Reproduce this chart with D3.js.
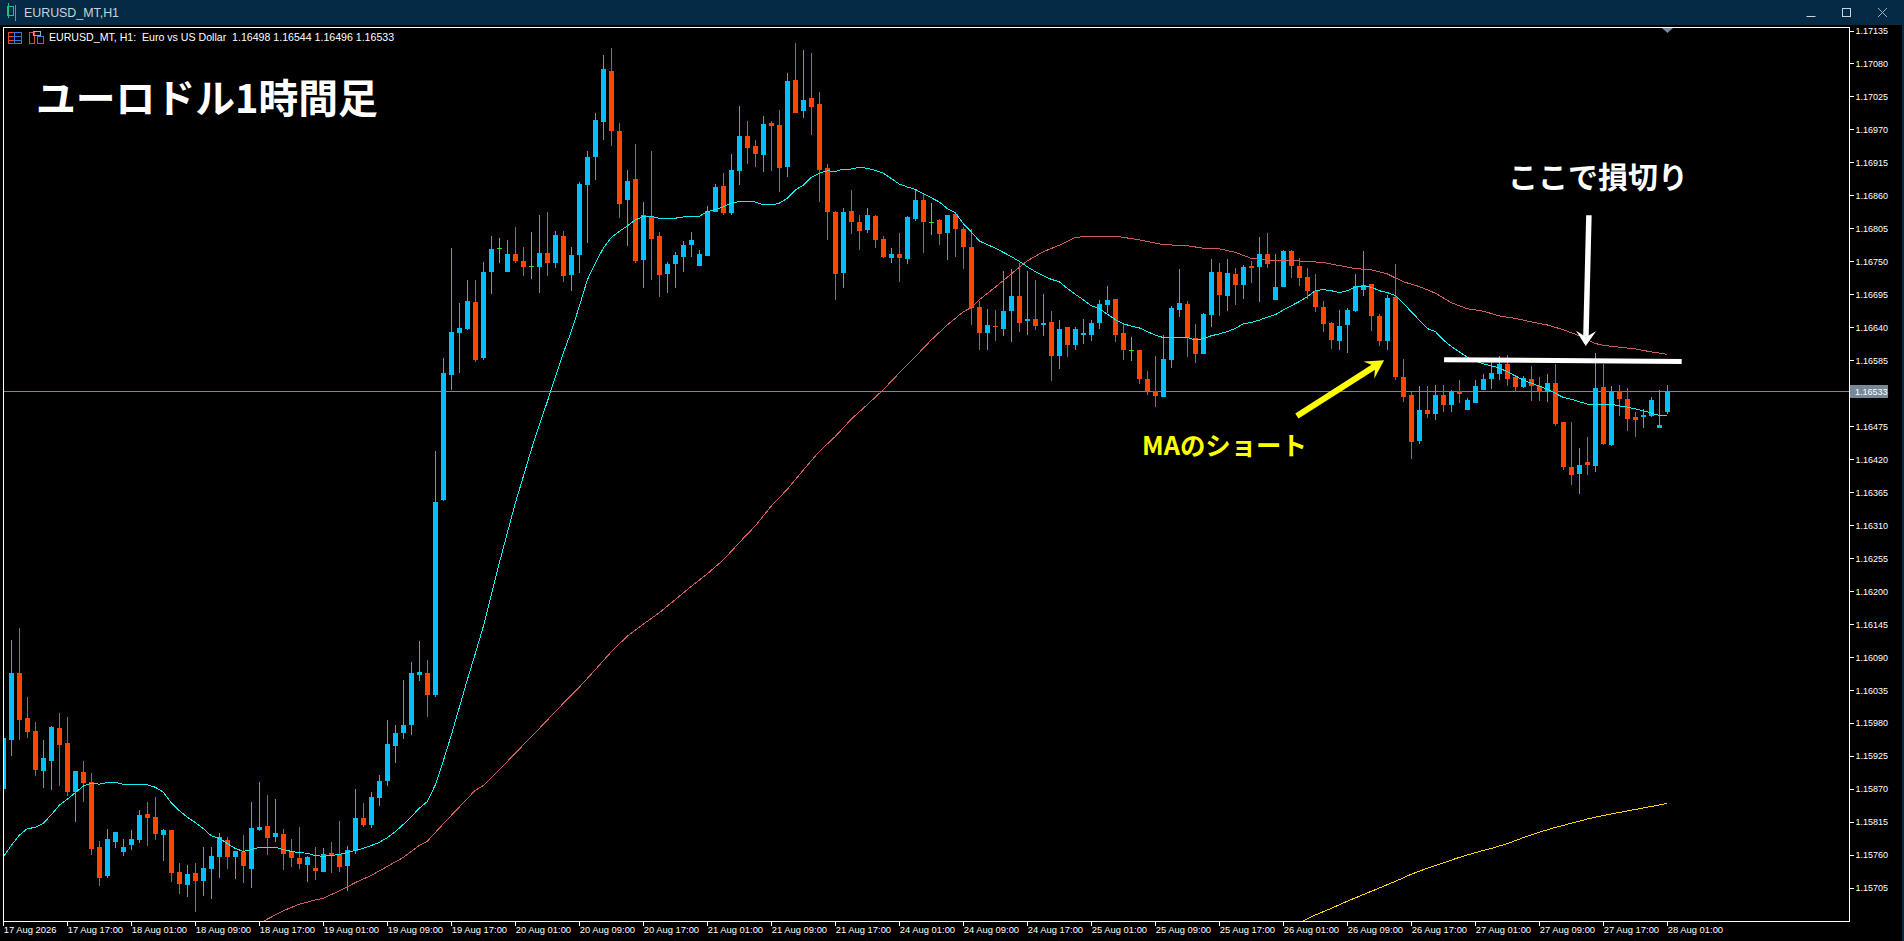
<!DOCTYPE html>
<html lang="ja">
<head>
<meta charset="utf-8">
<title>EURUSD_MT,H1</title>
<script src="https://cdn.jsdelivr.net/npm/d3@7"></script>
<style>
html,body{margin:0;padding:0;background:#000;overflow:hidden}
svg{display:block}
.ui{font-family:"Liberation Sans",Arial,sans-serif}
.jp{font-family:"Noto Sans CJK JP",sans-serif;font-weight:700}
.axis text{font-family:"Liberation Sans",sans-serif;font-size:9.4px;fill:#fff}
.axis.price text{font-size:9px}
.axis line,.axis path{stroke:#fff;shape-rendering:crispEdges}
</style>
</head>
<body>
<svg id="chart" width="1904" height="941"></svg>
<script>
const opens=[
1.15870,1.15952,1.16063,1.15988,1.15967,1.15900,1.15917,1.15971,1.15947,1.15865,
1.15898,1.15881,1.15773,1.15725,1.15782,1.15765,1.15777,1.15785,1.15828,1.15823,
1.15793,1.15801,1.15731,1.15710,1.15730,1.15717,1.15737,1.15757,1.15785,1.15757,
1.15765,1.15737,1.15801,1.15808,1.15790,1.15795,1.15765,1.15755,1.15743,1.15738,
1.15732,1.15763,1.15761,1.15742,1.15767,1.15821,1.15810,1.15855,1.15883,1.15942,
1.15964,1.15977,1.16060,1.16063,1.16027,1.16352,1.16561,1.16631,1.16637,1.16682,
1.16589,1.16732,1.16773,1.16732,1.16762,1.16751,1.16742,1.16741,1.16764,1.16747,
1.16792,1.16727,1.16761,1.16877,1.16924,1.16983,1.17068,1.16968,1.16852,1.16887,
1.16752,1.16824,1.16792,1.16729,1.16746,1.16757,1.16777,1.16743,1.16759,1.16832,
1.16876,1.16831,1.16901,1.16959,1.16943,1.16927,1.16981,1.16978,1.16907,1.17053,
1.17001,1.17023,1.17013,1.16906,1.16832,1.16731,1.16834,1.16816,1.16802,1.16826,
1.16787,1.16756,1.16762,1.16754,1.16820,1.16852,1.16816,1.16819,1.16797,1.16829,
1.16804,1.16774,1.16674,1.16630,1.16642,1.16637,1.16667,1.16692,1.16650,1.16654,
1.16644,1.16649,1.16592,1.16640,1.16610,1.16627,1.16627,1.16647,1.16677,1.16687,
1.16630,1.16603,1.16602,1.16553,1.16533,1.16523,1.16585,1.16669,1.16679,1.16623,
1.16595,1.16660,1.16732,1.16692,1.16729,1.16710,1.16742,1.16740,1.16762,1.16685,
1.16707,1.16767,1.16742,1.16724,1.16700,1.16674,1.16647,1.16617,1.16644,1.16667,
1.16702,1.16712,1.16659,1.16617,1.16691,1.16557,1.16527,1.16450,1.16502,1.16495,
1.16527,1.16510,1.16533,1.16502,1.16514,1.16535,1.16554,1.16562,1.16579,1.16557,
1.16540,1.16554,1.16542,1.16532,1.16547,1.16482,1.16407,1.16395,1.16415,1.16409,
1.16540,1.16444,1.16534,1.16520,1.16490,1.16490,1.16492,1.16472,1.16498];
const highs=[
1.15955,1.16118,1.16138,1.16023,1.15982,1.15952,1.15975,1.15997,1.15990,1.15900,
1.15917,1.15896,1.15783,1.15803,1.15798,1.15786,1.15801,1.15835,1.15848,1.15856,
1.15803,1.15801,1.15746,1.15743,1.15746,1.15773,1.15773,1.15796,1.15790,1.15766,
1.15793,1.15848,1.15881,1.15860,1.15853,1.15803,1.15786,1.15806,1.15759,1.15773,
1.15771,1.15781,1.15816,1.15775,1.15870,1.15846,1.15865,1.15893,1.15985,1.15977,
1.16052,1.16082,1.16117,1.16085,1.16434,1.16589,1.16772,1.16681,1.16719,1.16719,
1.16749,1.16792,1.16789,1.16786,1.16807,1.16774,1.16799,1.16827,1.16832,1.16801,
1.16801,1.16774,1.16882,1.16934,1.16998,1.17094,1.17106,1.16981,1.16902,1.16946,
1.16849,1.16934,1.16799,1.16749,1.16766,1.16784,1.16799,1.16769,1.16842,1.16879,
1.16897,1.16929,1.17009,1.16984,1.16953,1.16993,1.16984,1.17003,1.17064,1.17114,
1.17103,1.17098,1.17033,1.16912,1.16834,1.16839,1.16869,1.16827,1.16839,1.16827,
1.16792,1.16772,1.16797,1.16826,1.16871,1.16863,1.16847,1.16820,1.16827,1.16830,
1.16807,1.16804,1.16684,1.16670,1.16669,1.16734,1.16737,1.16747,1.16734,1.16719,
1.16695,1.16667,1.16652,1.16640,1.16640,1.16654,1.16652,1.16685,1.16709,1.16687,
1.16647,1.16624,1.16602,1.16567,1.16592,1.16628,1.16675,1.16737,1.16684,1.16645,
1.16664,1.16754,1.16747,1.16754,1.16739,1.16744,1.16750,1.16790,1.16797,1.16762,
1.16769,1.16769,1.16755,1.16739,1.16729,1.16684,1.16649,1.16669,1.16673,1.16729,
1.16767,1.16712,1.16662,1.16694,1.16746,1.16587,1.16532,1.16542,1.16542,1.16544,
1.16544,1.16535,1.16552,1.16522,1.16552,1.16562,1.16582,1.16592,1.16594,1.16561,
1.16559,1.16575,1.16557,1.16562,1.16579,1.16482,1.16482,1.16439,1.16457,1.16597,
1.16579,1.16542,1.16544,1.16539,1.16499,1.16504,1.16524,1.16535,1.16544];
const lows=[
1.15870,1.15925,1.15952,1.15955,1.15892,1.15872,1.15869,1.15875,1.15859,1.15815,
1.15849,1.15760,1.15709,1.15722,1.15772,1.15759,1.15769,1.15780,1.15775,1.15785,
1.15750,1.15715,1.15695,1.15690,1.15665,1.15692,1.15687,1.15722,1.15737,1.15720,
1.15714,1.15705,1.15800,1.15760,1.15782,1.15735,1.15740,1.15737,1.15715,1.15718,
1.15732,1.15730,1.15732,1.15700,1.15762,1.15806,1.15805,1.15842,1.15875,1.15914,
1.15954,1.15960,1.16050,1.15990,1.16024,1.16350,1.16536,1.16564,1.16636,1.16582,
1.16586,1.16696,1.16747,1.16732,1.16747,1.16726,1.16721,1.16697,1.16726,1.16739,
1.16716,1.16701,1.16731,1.16781,1.16886,1.16953,1.16943,1.16822,1.16776,1.16747,
1.16706,1.16719,1.16691,1.16697,1.16706,1.16732,1.16757,1.16742,1.16759,1.16832,
1.16827,1.16827,1.16877,1.16912,1.16907,1.16899,1.16901,1.16866,1.16891,1.16998,
1.16989,1.16961,1.16849,1.16786,1.16686,1.16706,1.16796,1.16769,1.16797,1.16772,
1.16756,1.16747,1.16716,1.16745,1.16817,1.16764,1.16794,1.16777,1.16752,1.16757,
1.16737,1.16644,1.16602,1.16602,1.16617,1.16625,1.16615,1.16633,1.16627,1.16635,
1.16625,1.16550,1.16570,1.16590,1.16602,1.16612,1.16617,1.16638,1.16664,1.16615,
1.16585,1.16584,1.16545,1.16527,1.16507,1.16523,1.16572,1.16657,1.16590,1.16580,
1.16595,1.16640,1.16659,1.16667,1.16677,1.16687,1.16714,1.16682,1.16739,1.16685,
1.16707,1.16722,1.16709,1.16687,1.16665,1.16632,1.16604,1.16602,1.16597,1.16666,
1.16692,1.16634,1.16609,1.16602,1.16552,1.16515,1.16420,1.16445,1.16489,1.16485,
1.16499,1.16499,1.16514,1.16502,1.16514,1.16535,1.16537,1.16552,1.16542,1.16532,
1.16539,1.16517,1.16517,1.16515,1.16475,1.16402,1.16377,1.16362,1.16394,1.16399,
1.16444,1.16442,1.16492,1.16467,1.16457,1.16472,1.16490,1.16472,1.16496];
const closes=[
1.15955,1.16063,1.15985,1.15965,1.15902,1.15922,1.15973,1.15944,1.15865,1.15900,
1.15880,1.15770,1.15722,1.15786,1.15798,1.15773,1.15786,1.15826,1.15822,1.15795,
1.15801,1.15730,1.15712,1.15728,1.15717,1.15738,1.15758,1.15790,1.15757,1.15766,
1.15742,1.15805,1.15806,1.15789,1.15796,1.15762,1.15755,1.15745,1.15756,1.15733,
1.15761,1.15758,1.15740,1.15768,1.15821,1.15810,1.15856,1.15883,1.15945,1.15963,
1.15977,1.16063,1.16065,1.16027,1.16349,1.16564,1.16632,1.16639,1.16684,1.16586,
1.16732,1.16771,1.16773,1.16762,1.16751,1.16741,1.16742,1.16764,1.16747,1.16794,
1.16726,1.16761,1.16879,1.16924,1.16986,1.17071,1.16968,1.16846,1.16884,1.16751,
1.16827,1.16787,1.16727,1.16746,1.16761,1.16777,1.16786,1.16762,1.16834,1.16874,
1.16831,1.16902,1.16959,1.16939,1.16929,1.16979,1.16976,1.16906,1.17051,1.16998,
1.17019,1.17008,1.16902,1.16832,1.16729,1.16832,1.16816,1.16801,1.16827,1.16786,
1.16757,1.16762,1.16756,1.16824,1.16852,1.16815,1.16816,1.16795,1.16827,1.16804,
1.16774,1.16672,1.16630,1.16644,1.16640,1.16667,1.16692,1.16648,1.16654,1.16642,
1.16647,1.16593,1.16638,1.16610,1.16638,1.16630,1.16647,1.16679,1.16685,1.16627,
1.16602,1.16603,1.16553,1.16533,1.16525,1.16587,1.16672,1.16680,1.16622,1.16595,
1.16662,1.16732,1.16694,1.16730,1.16710,1.16740,1.16739,1.16762,1.16745,1.16707,
1.16767,1.16742,1.16722,1.16700,1.16674,1.16645,1.16619,1.16642,1.16669,1.16709,
1.16711,1.16659,1.16617,1.16689,1.16557,1.16524,1.16449,1.16502,1.16495,1.16527,
1.16510,1.16532,1.16529,1.16519,1.16542,1.16554,1.16564,1.16579,1.16554,1.16540,
1.16555,1.16542,1.16532,1.16547,1.16479,1.16407,1.16394,1.16410,1.16410,1.16539,
1.16445,1.16532,1.16520,1.16487,1.16485,1.16494,1.16519,1.16477,1.16533];
const fastMA=[
1.15757,1.15776,1.15793,1.15804,1.15806,1.15813,1.15827,1.15843,1.15853,1.15864,
1.15875,1.15880,1.15878,1.15881,1.15881,1.15878,1.15878,1.15877,1.15877,1.15873,
1.15865,1.15847,1.15834,1.15823,1.15814,1.15804,1.15792,1.15788,1.15779,1.15771,
1.15766,1.15769,1.15773,1.15773,1.15773,1.15769,1.15766,1.15764,1.15763,1.15759,
1.15758,1.15759,1.15761,1.15764,1.15768,1.15771,1.15776,1.15781,1.15789,1.15799,
1.15811,1.15824,1.15838,1.15849,1.15877,1.15917,1.15960,1.16006,1.16052,1.16096,
1.16141,1.16194,1.16247,1.16297,1.16347,1.16391,1.16436,1.16477,1.16516,1.16557,
1.16597,1.16633,1.16675,1.16719,1.16747,1.16772,1.16790,1.16800,1.16809,1.16819,
1.16825,1.16825,1.16822,1.16822,1.16822,1.16824,1.16825,1.16825,1.16833,1.16836,
1.16841,1.16847,1.16850,1.16850,1.16849,1.16844,1.16844,1.16847,1.16855,1.16869,
1.16877,1.16890,1.16897,1.16901,1.16900,1.16904,1.16904,1.16907,1.16905,1.16902,
1.16897,1.16888,1.16879,1.16874,1.16870,1.16863,1.16856,1.16849,1.16838,1.16831,
1.16813,1.16799,1.16784,1.16778,1.16772,1.16765,1.16758,1.16750,1.16741,1.16733,
1.16726,1.16720,1.16716,1.16705,1.16695,1.16686,1.16676,1.16671,1.16662,1.16653,
1.16646,1.16642,1.16639,1.16633,1.16627,1.16623,1.16623,1.16623,1.16623,1.16619,
1.16621,1.16626,1.16629,1.16633,1.16638,1.16646,1.16648,1.16652,1.16657,1.16661,
1.16669,1.16676,1.16683,1.16691,1.16701,1.16703,1.16701,1.16698,1.16701,1.16707,
1.16709,1.16707,1.16701,1.16698,1.16693,1.16680,1.16666,1.16652,1.16638,1.16633,
1.16619,1.16608,1.16599,1.16590,1.16584,1.16579,1.16576,1.16572,1.16566,1.16559,
1.16552,1.16547,1.16542,1.16537,1.16530,1.16523,1.16520,1.16516,1.16512,1.16512,
1.16512,1.16512,1.16509,1.16507,1.16504,1.16501,1.16497,1.16493,1.16493];
const midMABars=[32,33,35,37,39,40,42,44,46,48,50,52,53,55,57,59,60,62,64,66,68,70,72,74,76,78,80,82,84,86,88,90,92,94,96,98,100,102,104,106,108,110,112,114,116,118,120,121,122,124,126,128,130,132,134,136,139,142,145,148,150,152,154,156,158,160,163,165,167,169,171,173,175,177,179,181,183,185,187,189,191,193,195,197,199,200,202,204,206,208];
const midMA=[1.15645,1.15653,1.15667,1.15678,1.15685,1.15688,1.15700,1.15714,1.15726,1.15741,1.15756,1.15776,1.15783,1.15812,1.15840,1.15868,1.15876,1.15902,1.15930,1.15957,1.15985,1.16013,1.16040,1.16069,1.16099,1.16125,1.16145,1.16164,1.16186,1.16208,1.16229,1.16252,1.16281,1.16309,1.16342,1.16370,1.16402,1.16433,1.16458,1.16487,1.16511,1.16536,1.16564,1.16591,1.16619,1.16644,1.16666,1.16673,1.16686,1.16707,1.16729,1.16751,1.16766,1.16777,1.16790,1.16792,1.16792,1.16786,1.16778,1.16776,1.16772,1.16771,1.16765,1.16755,1.16752,1.16752,1.16750,1.16748,1.16743,1.16738,1.16736,1.16729,1.16716,1.16708,1.16697,1.16681,1.16671,1.16667,1.16659,1.16655,1.16649,1.16644,1.16636,1.16626,1.16613,1.16610,1.16607,1.16604,1.16599,1.16595];
const slowMABars=[162,164,166,168,170,172,174,176,178,180,182,184,186,188,190,192,194,196,198,200,202,204,206,208];
const slowMA=[1.15647,1.15660,1.15671,1.15683,1.15694,1.15705,1.15716,1.15728,1.15738,1.15747,1.15756,1.15764,1.15771,1.15779,1.15789,1.15798,1.15806,1.15813,1.15820,1.15826,1.15831,1.15836,1.15841,1.15846];
const priceTicks=[1.17135,1.1708,1.17025,1.1697,1.16915,1.1686,1.16805,1.1675,1.16695,1.1664,1.16585,1.1653,1.16475,1.1642,1.16365,1.1631,1.16255,1.162,1.16145,1.1609,1.16035,1.1598,1.15925,1.1587,1.15815,1.1576,1.15705];
const timeLabels=["17 Aug 2026","17 Aug 17:00","18 Aug 01:00","18 Aug 09:00","18 Aug 17:00","19 Aug 01:00","19 Aug 09:00","19 Aug 17:00","20 Aug 01:00","20 Aug 09:00","20 Aug 17:00","21 Aug 01:00","21 Aug 09:00","21 Aug 17:00","24 Aug 01:00","24 Aug 09:00","24 Aug 17:00","25 Aug 01:00","25 Aug 09:00","25 Aug 17:00","26 Aug 01:00","26 Aug 09:00","26 Aug 17:00","27 Aug 01:00","27 Aug 09:00","27 Aug 17:00","28 Aug 01:00"];
const lastPrice=1.16533;
// annotations, in bar / price terms
const stopLine=[[180.1,1.16586],[209.8,1.16583]];
const whiteArrow=[[198.2,1.16827],[197.8,1.16609]];
const yellowArrow=[[161.7,1.16492],[172.6,1.16585]];

const plot={left:3,top:27,right:1849,bottom:921};
const x=d3.scaleLinear().domain([0,208]).range([3.3,1667.3]);
const y=d3.scaleLinear().domain([1.15705,1.17135]).range([888,30.5]);
const svg=d3.select("#chart");
const UP="#00BFFF",DOWN="#FF4500",DOJI="#2EE61E";

svg.append("rect").attr("width",1904).attr("height",941).attr("fill","#000");
// window chrome
svg.append("rect").attr("width",1904).attr("height",25).attr("fill","#042a46");
svg.append("rect").attr("x",1902).attr("y",25).attr("width",2).attr("height",916).attr("fill","#042a46");
const ic=svg.append("g").attr("fill","none").attr("stroke","#19c37d").attr("shape-rendering","crispEdges");
[[7,6,9,9],[14,9,3,9]].forEach(([a,b,w,h])=>ic.append("rect").attr("x",a).attr("y",b).attr("width",w-3).attr("height",h));
ic.append("path").attr("d","M8.5 3V18M15.5 5V21");
svg.append("text").attr("class","ui").attr("x",24).attr("y",17).attr("font-size",12.4).attr("fill","#c9d3da").text("EURUSD_MT,H1");
svg.append("path").attr("d","M1806.5 16.5H1815.5").attr("stroke","#c9d3da").attr("fill","none");
svg.append("rect").attr("x",1842.5).attr("y",8.5).attr("width",8).attr("height",8).attr("stroke","#c9d3da").attr("fill","none");
svg.append("path").attr("d","M1878 8L1887 17M1887 8L1878 17").attr("stroke","#9fb0bc").attr("fill","none");

svg.append("defs").append("clipPath").attr("id","plotclip").append("rect")
  .attr("x",plot.left+1).attr("y",plot.top+1).attr("width",plot.right-plot.left-1).attr("height",plot.bottom-plot.top-1);
const g=svg.append("g").attr("clip-path","url(#plotclip)");

// current price line
g.append("line").attr("x1",plot.left).attr("x2",plot.right).attr("y1",Math.round(y(lastPrice))+.5).attr("y2",Math.round(y(lastPrice))+.5)
  .attr("stroke","#778899").attr("shape-rendering","crispEdges");

const idx=d3.range(opens.length);
const colour=i=>closes[i]>opens[i]?UP:closes[i]<opens[i]?DOWN:DOJI;
const candles=g.append("g").attr("shape-rendering","crispEdges");
candles.selectAll("rect.w").data(idx).join("rect").attr("class","w")
  .attr("x",i=>Math.floor(x(i))).attr("width",1)
  .attr("y",i=>Math.round(y(highs[i]))).attr("height",i=>Math.max(1,Math.round(y(lows[i]))-Math.round(y(highs[i]))))
  .attr("fill",colour);
candles.selectAll("rect.b").data(idx).join("rect").attr("class","b")
  .attr("x",i=>Math.floor(x(i))-2).attr("width",5)
  .attr("y",i=>Math.round(y(Math.max(opens[i],closes[i]))))
  .attr("height",i=>Math.max(1,Math.round(y(Math.min(opens[i],closes[i])))-Math.round(y(Math.max(opens[i],closes[i])))))
  .attr("fill",colour);

// moving averages
const line=d3.line().x(d=>x(d[0])).y(d=>y(d[1]));
const drawMA=(bars,vals,col)=>g.append("path").attr("d",line(bars.map((b,k)=>[b,vals[k]])))
  .attr("fill","none").attr("stroke",col).attr("stroke-width",1).attr("shape-rendering","crispEdges");
drawMA(midMABars,midMA,"#CD5C5C");
drawMA(slowMABars,slowMA,"#FFD700");
drawMA(idx,fastMA,"#14F0F0");

// axes and frame
svg.append("rect").attr("x",plot.left+.5).attr("y",plot.top+.5).attr("width",plot.right-plot.left).attr("height",plot.bottom-plot.top)
  .attr("fill","none").attr("stroke","#fff").attr("shape-rendering","crispEdges");
const ax=svg.append("g").attr("class","axis price").attr("transform",`translate(${plot.right+.5},0)`)
  .call(d3.axisRight(y).tickValues(priceTicks).tickFormat(d3.format(".5f")).tickSize(4).tickSizeOuter(0));
ax.select(".domain").remove();
ax.selectAll("text").attr("x",6);
const tickBars=timeLabels.map((_,k)=>k*8);
const at=svg.append("g").attr("class","axis").attr("transform",`translate(0,${plot.bottom+.5})`)
  .call(d3.axisBottom(x).tickValues(tickBars).tickFormat((d,k)=>timeLabels[k]).tickSize(4).tickSizeOuter(0));
at.select(".domain").remove();
at.selectAll("text").attr("text-anchor","start").attr("y",5).attr("dy",".71em");

// last price tag
const tagY=Math.round(y(lastPrice));
svg.append("rect").attr("x",plot.right+1).attr("y",tagY-6).attr("width",38).attr("height",13).attr("fill","#778899");
svg.append("text").attr("x",plot.right+6).attr("y",tagY+4).attr("font-family","Liberation Sans").attr("font-size",9).attr("fill","#fff").text(d3.format(".5f")(lastPrice));
// chart shift marker
svg.append("path").attr("d",`M${Math.floor(x(208))-5} 28H${Math.floor(x(208))+6}L${Math.floor(x(208))+.5} 33Z`).attr("fill","#778899");

// header
const hd=svg.append("g").attr("fill","none").attr("shape-rendering","crispEdges");
hd.append("path").attr("d","M8.5 32.5h6v11h-6zM8.5 36.5h6M8.5 40h6").attr("stroke","#e0483a");
hd.append("path").attr("d","M14.5 32.5h7v11h-7zM14.5 36.5h7M14.5 40h7").attr("stroke","#2f7be0");
hd.append("path").attr("d","M29.5 32.5h5v11h-5z").attr("stroke","#e0483a");
hd.append("path").attr("d","M37.5 36.5h6v7h-6z").attr("stroke","#2f7be0");
hd.append("path").attr("d","M33.5 31.5h7v4h-7z").attr("stroke","#aaa");
svg.append("text").attr("x",49).attr("y",41).attr("font-family","Liberation Sans").attr("font-size",10.6).attr("fill","#fff").attr("xml:space","preserve")
  .text("EURUSD_MT, H1:  Euro vs US Dollar  1.16498 1.16544 1.16496 1.16533");

// annotations
svg.append("text").attr("class","jp").attr("x",36).attr("y",113).attr("font-size",39.8).attr("fill","#fff").text("ユーロドル1時間足");
svg.append("text").attr("class","jp").attr("x",1508).attr("y",188).attr("font-size",30).attr("fill","#fff").text("ここで損切り");
svg.append("text").attr("class","jp").attr("x",1142).attr("y",455).attr("font-size",25.4).attr("fill","#FFFF00").text("MAのショート");
svg.append("line").attr("x1",x(stopLine[0][0])).attr("y1",y(stopLine[0][1])).attr("x2",x(stopLine[1][0])).attr("y2",y(stopLine[1][1]))
  .attr("stroke","#fff").attr("stroke-width",5);
function arrow(a,col,w,hl,hw){
  const x1=x(a[0][0]),y1=y(a[0][1]),x2=x(a[1][0]),y2=y(a[1][1]);
  const ang=Math.atan2(y2-y1,x2-x1),c=Math.cos(ang),s=Math.sin(ang);
  const pt=(al,pe)=>[x2-al*c-pe*s,y2-al*s+pe*c];
  const n=pt(hl*.6,0);
  svg.append("line").attr("x1",x1).attr("y1",y1).attr("x2",n[0]).attr("y2",n[1]).attr("stroke",col).attr("stroke-width",w);
  svg.append("path").attr("d","M"+[x2,y2]+"L"+pt(hl,hw)+"L"+n+"L"+pt(hl,-hw)+"Z").attr("fill",col);
}
arrow(whiteArrow,"#fff",5.5,15,10);
arrow(yellowArrow,"#FFFF00",6,18,10);
</script>
</body>
</html>
